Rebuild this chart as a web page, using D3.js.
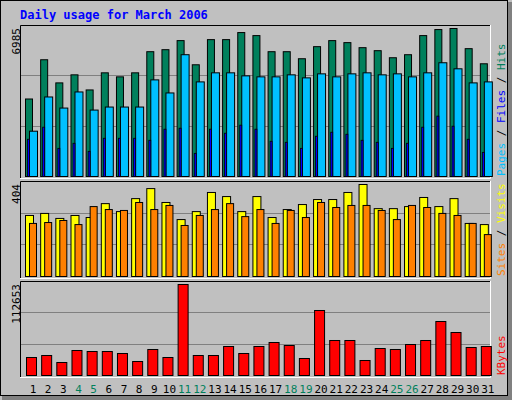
<!DOCTYPE html>
<html><head><meta charset="utf-8">
<script src="https://cdn.jsdelivr.net/npm/d3@7"></script>
<style>body{margin:0;background:#fff}</style>
</head><body>
<svg id="chart" width="512" height="400"></svg>
<script>
// daily values
const days = d3.range(1, 32);
const weekend = [4, 5, 11, 12, 18, 19, 25, 26];
const hits = [3658,5510,4418,4798,4085,4893,4703,4893,5890,5985,6413,5273,6460,6460,6793,6650,5890,5890,5558,6128,6413,6318,6080,5938,5605,5748,6650,6935,6985,6033,5320];
const files = [2138,3753,3230,3990,3135,3278,3278,3278,4560,3943,5748,4465,4893,4893,4750,4703,4703,4798,4655,4845,4703,4845,4893,4798,4845,4703,4893,5368,5083,4418,4465];
const pages = [1758,2328,1330,1568,1188,1805,1805,1805,1710,2233,2280,1093,2233,2043,2423,2233,1663,1615,1330,1900,2090,1995,1710,1615,1330,1568,2328,2850,2375,1758,1140];
const sites = [268,277,255,268,259,320,285,342,386,325,250,285,369,351,285,351,259,294,316,338,338,369,404,298,298,307,347,307,342,233,228];
const visits = [233,237,246,228,307,294,290,325,294,312,224,268,294,320,263,294,233,290,259,325,303,312,312,290,250,312,303,277,268,233,184];
const kbytes = [22284,24760,16094,30950,29712,29712,27236,17332,32188,22284,112653,24760,24760,35902,27236,35902,40854,37140,21046,80470,43330,43330,18570,33426,32188,38378,43330,66852,53234,34664,35902];

const svg = d3.select("#chart");
const mono = "'DejaVu Sans Mono', monospace";

// frame
svg.append("rect").attr("x",0).attr("y",0).attr("width",512).attr("height",400).attr("fill","#c0c0c0");
svg.append("rect").attr("x",0.5).attr("y",0.5).attr("width",507).attr("height",395).attr("fill","none").attr("stroke","#000");
svg.append("rect").attr("x",508).attr("y",2).attr("width",4).attr("height",398).attr("fill","#808080");
svg.append("rect").attr("x",2).attr("y",396).attr("width",510).attr("height",4).attr("fill","#808080");

svg.append("text").attr("x",20).attr("y",19).attr("font-family",mono).attr("font-weight","bold")
  .attr("font-size",12).attr("fill","#0000ff").text("Daily usage for March 2006");

const x = d3.scaleBand().domain(days).range([20, 490]).paddingInner(0).paddingOuter(0);

function panel(top, bottom, max, label, series, right) {
  svg.append("rect").attr("x",20).attr("y",top).attr("width",470).attr("height",bottom-top)
    .attr("fill","#c0c0c0");
  svg.append("path").attr("d",`M20.5,${bottom}V${top+0.5}H490`).attr("stroke","#000").attr("fill","none");
  svg.append("path").attr("d",`M20,${bottom+0.5}H490.5V${top}`).attr("stroke","#fff").attr("fill","none");
  const y = d3.scaleLinear().domain([0, max]).range([bottom-2, top+3]);
  [1/3, 2/3].forEach(f => {
    const gy = Math.round(bottom-2 - (bottom-2-top)*f) + 0.5;
    svg.append("line").attr("x1",21).attr("x2",490).attr("y1",gy).attr("y2",gy).attr("stroke","#808080");
  });
  series.forEach(s => {
    svg.append("g").selectAll("rect").data(s.data).join("rect")
      .attr("x",(d,i) => x(days[i]) + s.off + 0.5)
      .attr("y",d => y(d) + 0.5)
      .attr("width",s.w)
      .attr("height",d => y(0) - y(d))
      .attr("fill",s.color).attr("stroke","#000").attr("stroke-width",s.w > 3 ? 1 : 0.8);
  });
  svg.append("text").attr("transform",`translate(20,${top+3}) rotate(-90)`)
    .attr("text-anchor","end").attr("font-family",mono).attr("font-size",11).attr("fill","#000").text(label);
  const t = svg.append("text").attr("transform",`translate(505,${bottom-2}) rotate(-90)`)
    .attr("font-family",mono).attr("font-size",11);
  right.forEach((r, i) => {
    if (i) t.append("tspan").attr("fill","#000").text(" / ");
    t.append("tspan").attr("fill",r[1]).text(r[0]);
  });
}

panel(25, 178, 6985, "6985", [
  {data: hits, color: "#00805c", off: 5, w: 7},
  {data: files, color: "#00c0ff", off: 9, w: 8},
  {data: pages, color: "#0000ff", off: 7, w: 2}
], [["Pages","#00c0ff"],["Files","#0000ff"],["Hits","#00805c"]]);

panel(181, 278, 404, "404", [
  {data: sites, color: "#ffff00", off: 5, w: 8},
  {data: visits, color: "#ff8000", off: 9, w: 7}
], [["Sites","#ff8000"],["Visits","#ffff00"]]);

panel(281, 377, 112653, "112653", [
  {data: kbytes, color: "#ff0000", off: 6, w: 10}
], [["KBytes","#ff0000"]]);

svg.append("g").selectAll("text").data(days).join("text")
  .attr("x",d => x(d) + 13).attr("y",393).attr("text-anchor","middle")
  .attr("font-family",mono).attr("font-size",11)
  .attr("fill",d => weekend.includes(d) ? "#00805c" : "#000").text(d => d);
</script>
</body></html>
